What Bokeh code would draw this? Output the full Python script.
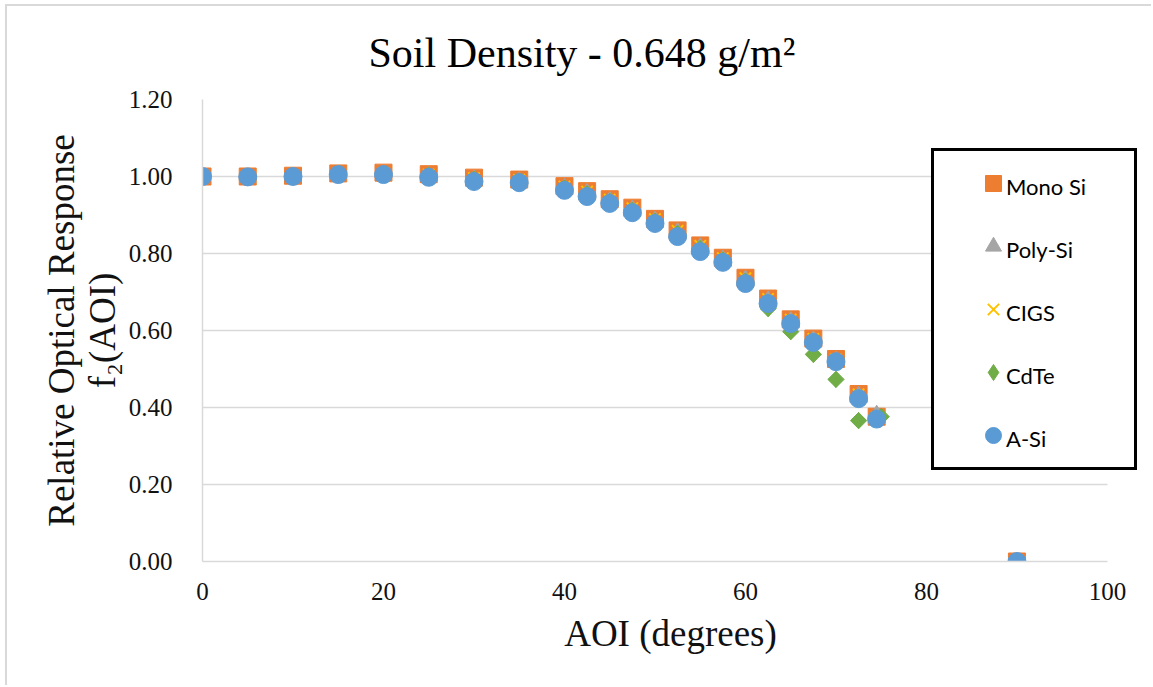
from bokeh.plotting import figure
from bokeh.models import (Legend, LegendItem, FixedTicker,
                          NumeralTickFormatter, Range1d, Title)
from bokeh.embed import file_html
from bokeh.resources import INLINE

# ---- data ----
aoi = [0, 5, 10, 15, 20, 25, 30, 35, 40, 42.5, 45, 47.5, 50, 52.5, 55, 57.5,
       60, 62.5, 65, 67.5, 70, 72.5, 74.5, 90]
aoi_cdte = [0, 5, 10, 15, 20, 25, 30, 35, 40, 42.5, 45, 47.5, 50, 52.5, 55, 57.5,
            60, 62.5, 65, 67.5, 70, 72.5, 75, 90]
mono_si = [1.000, 1.000, 1.002, 1.008, 1.010, 1.006, 0.997, 0.992, 0.975, 0.962,
           0.941, 0.919, 0.890, 0.860, 0.821, 0.789, 0.737, 0.683, 0.629, 0.579,
           0.526, 0.435, 0.376, 0.000]
poly_si = [1.000, 1.000, 1.002, 1.007, 1.009, 1.005, 0.996, 0.991, 0.974, 0.961,
           0.940, 0.918, 0.889, 0.859, 0.820, 0.788, 0.736, 0.682, 0.628, 0.578,
           0.525, 0.434, 0.385, 0.000]
cigs = [1.000, 1.000, 1.002, 1.008, 1.009, 1.005, 0.996, 0.991, 0.974, 0.961,
        0.940, 0.918, 0.889, 0.859, 0.820, 0.788, 0.736, 0.682, 0.628, 0.578,
        0.525, 0.434, 0.375, 0.000]
cdte = [1.000, 1.000, 1.002, 1.007, 1.008, 1.003, 0.993, 0.988, 0.970, 0.955,
        0.935, 0.912, 0.884, 0.852, 0.813, 0.783, 0.728, 0.657, 0.597, 0.538,
        0.473, 0.366, 0.376, 0.000]
a_si = [1.000, 0.999, 1.000, 1.005, 1.005, 0.998, 0.987, 0.984, 0.964, 0.948,
        0.930, 0.906, 0.878, 0.844, 0.805, 0.777, 0.722, 0.670, 0.618, 0.569,
        0.519, 0.423, 0.370, 0.000]
series_names = ["Mono Si", "Poly-Si", "CIGS", "CdTe", "A-Si"]
x_ticks = [0, 20, 40, 60, 80, 100]
y_ticks = [0.0, 0.2, 0.4, 0.6, 0.8, 1.0, 1.2]
x_axis_start, x_axis_end = 0, 100

SERIF = "Liberation Serif"
COLORS = ["#ED7D31", "#A5A5A5", "#FFC000", "#70AD47", "#5B9BD5"]

# plot area 0..100 spans 905 px; the frame is widened on the right so the
# legend box (which overhangs the plot area in the reference) is not clipped
p = figure(width=1146, height=681, output_backend="svg", toolbar_location=None,
           x_range=Range1d(x_axis_start, 103.43), y_range=Range1d(0, 1.2),
           min_border_left=195, min_border_right=15, min_border_top=93,
           min_border_bottom=126, outline_line_color=None,
           background_fill_color="white", border_fill_color="white")
# light chart-area border (top/left edges visible in the reference)
p.styles = {"margin-left": "5px", "margin-top": "4px",
            "border-left": "2px solid #d9d9d9", "border-top": "2px solid #d9d9d9"}

title = Title(text="Soil Density - 0.648 g/m\u00b2", align="left", offset=166,
              standoff=43, vertical_align="top",
              text_font=SERIF, text_font_size="42px",
              text_font_style="normal", text_color="#000000")
p.add_layout(title, "above")

r_mono = p.scatter(aoi, mono_si, marker="square", size=17,
                   fill_color=COLORS[0], line_color=COLORS[0])
r_poly = p.scatter(aoi, poly_si, marker="triangle", size=14,
                   fill_color=COLORS[1], line_color=COLORS[1])
r_cigs = p.scatter(aoi, cigs, marker="x", size=16, line_color=COLORS[2],
                   line_width=2)
r_cdte = p.scatter(aoi_cdte, cdte, marker="diamond", size=16,
                   fill_color=COLORS[3], line_color=COLORS[3])
p.scatter(aoi_cdte, cdte, marker="square", angle=0.785398, size=11.5,
          fill_color=COLORS[3], line_color=COLORS[3])
r_asi = p.scatter(aoi, a_si, marker="circle", size=18,
                  fill_color=COLORS[4], line_color=COLORS[4])

# axes
p.xaxis.ticker = FixedTicker(ticks=x_ticks)
p.yaxis.ticker = FixedTicker(ticks=y_ticks)
p.yaxis.formatter = NumeralTickFormatter(format="0.00")
p.xaxis.bounds = (x_axis_start, x_axis_end)
for ax in (p.xaxis[0], p.yaxis[0]):
    ax.axis_line_color = "#d9d9d9"
    ax.axis_line_width = 1.5
    ax.major_tick_line_color = None
    ax.minor_tick_line_color = None
    ax.major_label_text_font = SERIF
    ax.major_label_text_font_size = "25px"
    ax.major_label_text_color = "#111111"
    ax.axis_label_text_font = SERIF
    ax.axis_label_text_font_size = "37px"
    ax.axis_label_text_font_style = "normal"
    ax.axis_label_text_color = "#111111"
p.xaxis.axis_label = "AOI (degrees)"
p.yaxis.axis_label = "Relative Optical Response\nf\u2082(AOI)"
p.yaxis.axis_label_text_line_height = 1.0
p.xaxis.major_label_standoff = 15
p.yaxis.major_label_standoff = 24
p.xaxis.axis_label_standoff = 10
p.yaxis.axis_label_standoff = 3

p.xgrid.visible = False
p.ygrid.grid_line_color = "#d9d9d9"
p.ygrid.grid_line_width = 1.5
p.ygrid.cross_bounds = (x_axis_start, x_axis_end)

renderers = [r_mono, r_poly, r_cigs, r_cdte, r_asi]

# boxed legend frame holding the series markers
legend_box = Legend(items=[LegendItem(label=" ", renderers=[r])
                           for r in renderers],
                    location=(729, 91), orientation="vertical",
                    glyph_width=94, glyph_height=40, label_height=40,
                    label_width=82, spacing=23, padding=12, margin=0,
                    label_standoff=0,
                    border_line_color="black", border_line_alpha=1,
                    border_line_width=3.5,
                    background_fill_color="white", background_fill_alpha=1,
                    label_text_font="Lato", label_text_font_size="22px")
p.add_layout(legend_box, "center")
# series names, placed right next to the markers
legend_names = Legend(items=[LegendItem(label=n, renderers=[])
                             for n in series_names],
                      location=(778, 103), orientation="vertical",
                      glyph_width=26, glyph_height=40, label_height=40,
                      spacing=23, padding=0, margin=0, label_standoff=0,
                      border_line_color=None, background_fill_alpha=0,
                      label_text_font="Lato", label_text_font_size="22px",
                      label_text_color="#000000")
p.add_layout(legend_names, "center")

open("out.html", "w").write(file_html(p, INLINE))
